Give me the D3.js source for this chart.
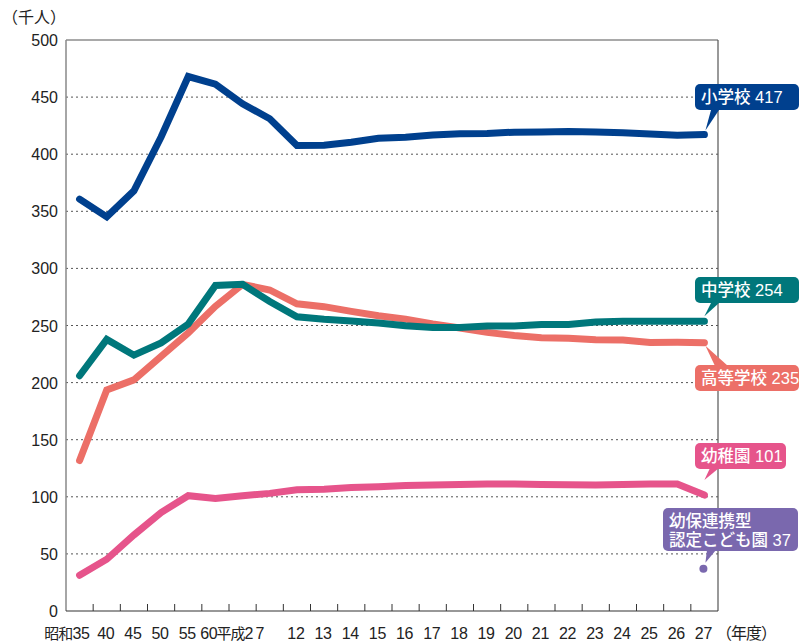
<!DOCTYPE html>
<html lang="ja">
<head>
<meta charset="utf-8" />
<title>教員数の推移</title>
<script src="https://cdn.jsdelivr.net/npm/d3@7"></script>
<style>
  body { margin: 0; background: #fff; }
  svg text { font-family: "Liberation Sans", "Noto Sans CJK JP", sans-serif; }
</style>
</head>
<body>
<svg width="801" height="644"></svg>
<script>
// 年度 categories
var years = ["昭和35", "40", "45", "50", "55", "60", "平成2", "7", "12", "13", "14", "15",
  "16", "17", "18", "19", "20", "21", "22", "23", "24", "25", "26", "27"];

// teachers (thousand people)
var elementary = [360.7, 345.1, 367.9, 415.1, 468.0, 461.3, 444.2, 431.0, 407.6, 407.8, 410.5, 413.9,
  414.9, 416.8, 417.9, 418.2, 419.3, 419.5, 419.8, 419.5, 418.7, 417.6, 416.5, 417.2];
var juniorHigh = [206.0, 237.8, 224.0, 234.8, 251.3, 285.1, 286.1, 271.0, 257.6, 255.5, 254.0, 252.1,
  249.8, 248.3, 248.2, 249.6, 249.5, 250.8, 250.9, 253.1, 253.8, 253.8, 253.7, 253.7];
var highSchool = [131.7, 193.5, 202.4, 222.9, 243.6, 266.8, 286.0, 281.1, 269.0, 266.5, 262.4, 258.5,
  255.6, 251.4, 247.8, 244.0, 241.2, 239.3, 238.9, 237.5, 237.2, 235.1, 235.3, 235.0];
var kindergarten = [31.3, 45.3, 66.6, 86.2, 101.0, 98.5, 100.9, 103.0, 106.1, 106.7, 108.1, 108.8,
  109.8, 110.4, 110.8, 111.2, 111.2, 110.7, 110.6, 110.4, 110.8, 111.1, 111.1, 101.5];
var kodomoen = [37]; // 平成27 only

var yTicks = [0, 50, 100, 150, 200, 250, 300, 350, 400, 450, 500];

var svg = d3.select("svg");
var plotL = 66, plotR = 718, plotT = 40, plotB = 611;

var x = d3.scaleBand().domain(years).range([plotL, plotR]);
var y = d3.scaleLinear().domain([0, 500]).range([plotB, plotT]);
var cx = function (c) { return x(c) + x.bandwidth() / 2; };

// dotted grid lines
svg.append("g")
  .selectAll("line")
  .data(yTicks.filter(function (t) { return t > 0 && t < 500; }))
  .enter().append("line")
  .attr("x1", plotL).attr("x2", plotR)
  .attr("y1", function (d) { return y(d); })
  .attr("y2", function (d) { return y(d); })
  .attr("stroke", "#555")
  .attr("stroke-width", 1)
  .attr("stroke-dasharray", "2,3");

// frame
svg.append("line").attr("x1", plotL).attr("x2", plotR).attr("y1", plotT).attr("y2", plotT)
  .attr("stroke", "#555").attr("stroke-width", 1.2);
svg.append("line").attr("x1", plotR).attr("x2", plotR).attr("y1", plotT).attr("y2", plotB)
  .attr("stroke", "#555").attr("stroke-width", 1.2);
svg.append("line").attr("x1", plotL).attr("x2", plotL).attr("y1", plotT).attr("y2", plotB)
  .attr("stroke", "#888").attr("stroke-width", 1.5);
svg.append("line").attr("x1", plotL).attr("x2", plotR).attr("y1", plotB).attr("y2", plotB)
  .attr("stroke", "#333").attr("stroke-width", 1.2);

// x ticks at band boundaries
svg.append("g")
  .selectAll("line")
  .data(years.slice(1))
  .enter().append("line")
  .attr("x1", function (d) { return x(d); })
  .attr("x2", function (d) { return x(d); })
  .attr("y1", plotB).attr("y2", plotB - 7)
  .attr("stroke", "#333").attr("stroke-width", 1);

// y labels
svg.append("g")
  .selectAll("text")
  .data(yTicks)
  .enter().append("text")
  .attr("x", 58)
  .attr("y", function (d) { return y(d) + 6; })
  .attr("text-anchor", "end")
  .attr("font-size", 16)
  .attr("fill", "#222")
  .text(function (d) { return d; });

svg.append("text").attr("x", 2).attr("y", 23).attr("font-size", 16).attr("fill", "#222").text("（千人）");

// x labels (a few are nudged like the original); era names drawn a bit narrower
var nudge = { "昭和35": ["end", 10], "60": ["end", 2], "平成2": ["start", -26], "7": ["middle", -10] };
var xl = svg.append("g")
  .selectAll("text")
  .data(years)
  .enter().append("text")
  .attr("x", function (d) { return cx(d) + (nudge[d] ? nudge[d][1] : -1); })
  .attr("y", 639)
  .attr("text-anchor", function (d) { return nudge[d] ? nudge[d][0] : "middle"; })
  .attr("font-size", 16)
  .attr("letter-spacing", "-0.3")
  .attr("fill", "#222");
xl.each(function (d) {
  var m = d.match(/^([^0-9]*)([0-9]+)$/);
  var t = d3.select(this);
  if (m[1]) t.append("tspan").attr("font-size", 15).attr("letter-spacing", "-1").text(m[1]);
  t.append("tspan").text(m[2]);
});
svg.append("text").attr("x", 716).attr("y", 639).attr("font-size", 16)
  .attr("letter-spacing", "-1").attr("fill", "#222").text("（年度）");

// lines
var line = d3.line()
  .x(function (d, i) { return cx(years[i]); })
  .y(function (d) { return y(d); });

var series = [
  { values: highSchool, color: "#ec6f67" },
  { values: kindergarten, color: "#e6548b" },
  { values: juniorHigh, color: "#00777b" },
  { values: elementary, color: "#00408e" }
];

svg.append("g")
  .selectAll("path")
  .data(series)
  .enter().append("path")
  .attr("d", function (d) { return line(d.values); })
  .attr("fill", "none")
  .attr("stroke", function (d) { return d.color; })
  .attr("stroke-width", 7)
  .attr("stroke-linecap", "round")
  .attr("stroke-linejoin", "miter");

// こども園 dot
var lastYear = years[years.length - 1];
svg.append("circle")
  .attr("cx", cx(lastYear) - 1)
  .attr("cy", y(kodomoen[0]))
  .attr("r", 4)
  .attr("fill", "#7a68ae");

// callouts
var callouts = [
  { lines: ["小学校 417"], color: "#00408e", bx: 695, by: 84, bw: 104, bh: 26,
    tail: [[711, 110], [719, 110], [cx(lastYear) + 1, y(elementary[23]) - 4]] },
  { lines: ["中学校 254"], color: "#00777b", bx: 695, by: 277, bw: 104, bh: 26,
    tail: [[711, 303], [719, 303], [cx(lastYear), y(juniorHigh[23]) - 5]] },
  { lines: ["高等学校 235"], color: "#ec6f67", bx: 695, by: 365, bw: 104, bh: 26,
    tail: [[715, 366], [728, 366], [cx(lastYear) + 1, y(highSchool[23]) + 3]] },
  { lines: ["幼稚園 101"], color: "#e6548b", bx: 695, by: 443, bw: 91, bh: 26,
    tail: [[710, 468], [719, 468], [cx(lastYear), y(kindergarten[23]) - 15]] },
  { lines: ["幼保連携型", "認定こども園 37"], color: "#7a68ae", bx: 663, by: 508, bw: 135, bh: 43,
    tail: [[707, 550], [716, 550], [cx(lastYear) + 1, y(kodomoen[0]) - 6]] }
];

var cg = svg.append("g").selectAll("g").data(callouts).enter().append("g");
cg.append("path")
  .attr("d", function (d) { return "M" + d.tail.join("L") + "Z"; })
  .attr("fill", function (d) { return d.color; });
cg.append("rect")
  .attr("x", function (d) { return d.bx; })
  .attr("y", function (d) { return d.by; })
  .attr("width", function (d) { return d.bw; })
  .attr("height", function (d) { return d.bh; })
  .attr("rx", 5)
  .attr("fill", function (d) { return d.color; });
cg.each(function (d) {
  var g = d3.select(this);
  d.lines.forEach(function (t, i) {
    g.append("text")
      .attr("x", d.bx + 6)
      .attr("y", d.by + 19 + i * 19)
      .attr("font-size", 16.5)
      .attr("font-weight", 500)
      .attr("fill", "#fff")
      .text(t);
  });
});
</script>
</body>
</html>
